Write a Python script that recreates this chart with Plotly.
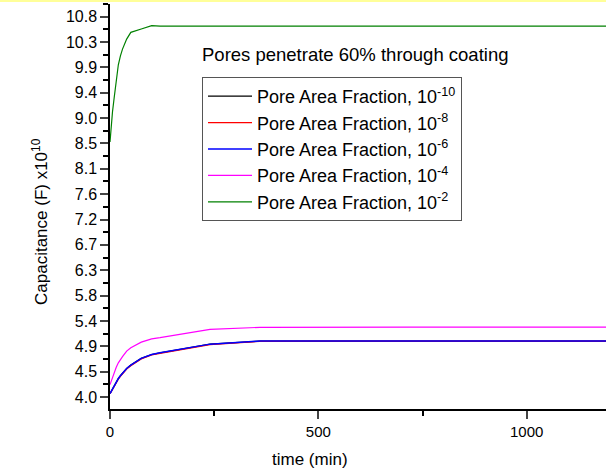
import plotly.graph_objects as go

# ---- data ----
time_min = [0, 3, 6, 10, 15, 20, 25, 30, 40, 50, 75, 100, 120, 240, 360, 480, 600, 720, 840, 960, 1080, 1200, 1320]
pf_1e10 = [4.06, 4.10, 4.14, 4.21, 4.28, 4.33, 4.38, 4.43, 4.51, 4.57, 4.69, 4.76, 4.79, 4.945, 5.0, 5.0, 5.0, 5.0, 5.0, 5.0, 5.0, 5.0, 5.0]
pf_1e8 = [4.06, 4.10, 4.14, 4.20, 4.27, 4.32, 4.37, 4.42, 4.50, 4.56, 4.68, 4.75, 4.78, 4.935, 4.995, 5.0, 5.0, 5.0, 5.0, 5.0, 5.0, 5.0, 5.0]
pf_1e6 = [4.06, 4.10, 4.14, 4.21, 4.28, 4.33, 4.38, 4.43, 4.51, 4.57, 4.69, 4.76, 4.79, 4.945, 5.0, 5.0, 5.0, 5.0, 5.0, 5.0, 5.0, 5.0, 5.0]
pf_1e4 = [4.22, 4.29, 4.35, 4.43, 4.53, 4.61, 4.67, 4.72, 4.82, 4.88, 4.98, 5.04, 5.06, 5.21, 5.245, 5.25, 5.25, 5.25, 5.25, 5.25, 5.25, 5.25, 5.25]
pf_1e2 = [8.56, 8.85, 9.10, 9.35, 9.68, 9.94, 10.10, 10.22, 10.40, 10.52, 10.58, 10.64, 10.63, 10.63, 10.63, 10.63, 10.63, 10.63, 10.63, 10.63, 10.63, 10.63, 10.63]

series_names = ["Pore Area Fraction, 10<sup>-10</sup>", "Pore Area Fraction, 10<sup>-8</sup>",
                "Pore Area Fraction, 10<sup>-6</sup>", "Pore Area Fraction, 10<sup>-4</sup>",
                "Pore Area Fraction, 10<sup>-2</sup>"]
series_values = [pf_1e10, pf_1e8, pf_1e6, pf_1e4, pf_1e2]
series_colors = ["#000000", "#ff0000", "#0000ff", "#ff00ff", "#008000"]
series_widths = [1.2, 1.2, 1.5, 1.2, 1.2]

y_step = (10.8 - 4.0) / 15
y_tickvals = [4.0 + k * y_step for k in range(16)]
y_ticktext = ["4.0", "4.5", "4.9", "5.4", "5.8", "6.3", "6.7", "7.2", "7.6", "8.1", "8.5", "9.0", "9.4", "9.9", "10.3", "10.8"]
y_minor = [4.0 + (k + 0.5) * y_step for k in range(-1, 16)]
x_tickvals = [0, 500, 1000]
x_minor = [250, 750, 1250]

title_text = "Pores penetrate 60% through coating"
x_title = "time (min)"
y_title = "Capacitance (F) x10<sup>10</sup>"

# ---- layout geometry ----
W, H = 606, 472
ML, MR, MT, MB = 110, 0, 4, 63
PW, PH = W - ML - MR, H - MT - MB

def px(xp):
    return (xp - ML) / PW

def py(yp):
    return (H - MB - yp) / PH

FONT = "Arial, Liberation Sans, sans-serif"

fig = go.Figure()
for name, vals, col, w in zip(series_names, series_values, series_colors, series_widths):
    fig.add_trace(go.Scatter(x=time_min, y=vals, mode="lines", name=name,
                             line=dict(color=col, width=w)))

fig.update_layout(
    width=W, height=H,
    margin=dict(l=ML, r=MR, t=MT, b=MB, pad=0),
    paper_bgcolor="white", plot_bgcolor="white",
    font=dict(family=FONT, color="black", size=16),
    showlegend=True,
    legend=dict(x=px(202), y=py(77), xanchor="left", yanchor="top",
                bordercolor="#555555", borderwidth=1, bgcolor="white",
                font=dict(size=18, family=FONT), itemwidth=44,
                tracegroupgap=0),
    xaxis=dict(range=[0, 1190.4], tickvals=x_tickvals, ticks="outside", ticklen=8,
               tickwidth=1.5, showline=True, linecolor="black", linewidth=1.5,
               showgrid=False, zeroline=False, tickfont=dict(size=15),
               minor=dict(tickvals=x_minor, ticks="outside", ticklen=5, tickwidth=1.5,
                          tickcolor="black", showgrid=False)),
    yaxis=dict(range=[3.785, 11.027], tickvals=y_tickvals, ticktext=y_ticktext,
               ticks="outside", ticklen=8, tickwidth=1.5, showline=True,
               linecolor="black", linewidth=1.5, showgrid=False, zeroline=False,
               tickfont=dict(size=16),
               minor=dict(tickvals=y_minor, ticks="outside", ticklen=5, tickwidth=1.5,
                          tickcolor="black", showgrid=False)),
)

fig.add_annotation(text=title_text, x=px(355), y=py(55), xref="paper", yref="paper",
                   showarrow=False, font=dict(size=18.5, family=FONT), xanchor="center", yanchor="middle")
fig.add_annotation(text=x_title, x=px(310), y=py(459), xref="paper", yref="paper",
                   showarrow=False, font=dict(size=17, family=FONT), xanchor="center", yanchor="middle")
fig.add_annotation(text=y_title, x=px(40), y=py(222), xref="paper", yref="paper", textangle=-90,
                   showarrow=False, font=dict(size=17, family=FONT), xanchor="center", yanchor="middle")

fig.add_shape(type="line", xref="paper", yref="paper", x0=px(0), x1=px(W), y0=py(1), y1=py(1),
              line=dict(color="#ffff99", width=2))

fig.write_html("out.html", config={"displayModeBar": False},
               post_script="document.body.style.margin='0';document.body.style.overflow='hidden';")
